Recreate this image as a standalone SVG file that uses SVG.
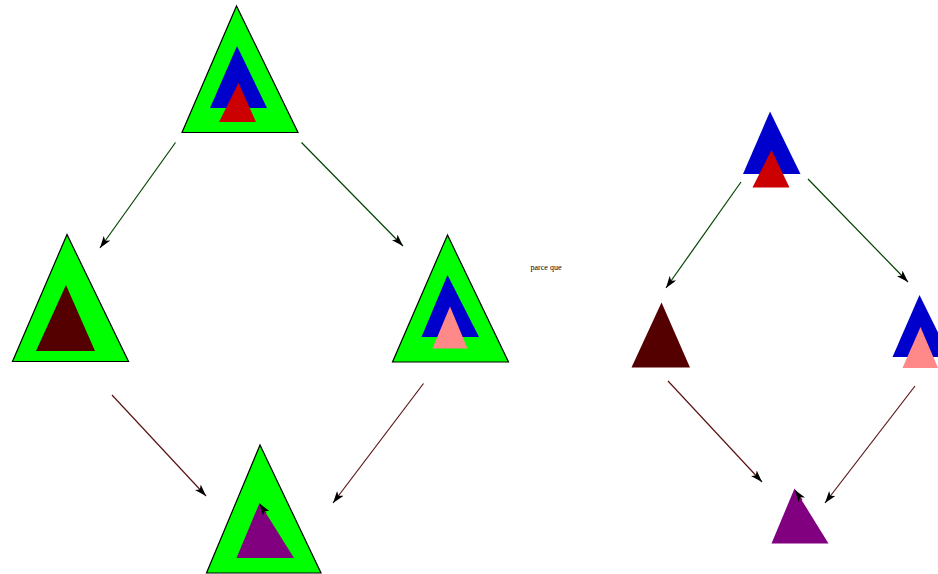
<svg xmlns="http://www.w3.org/2000/svg" width="938" height="574" viewBox="0 0 938 574">
<style>
.g{fill:#00ff00;stroke:#000;stroke-width:1.2}
.b{fill:#0000cc}
.r{fill:#cc0000}
.d{fill:#550000}
.p{fill:#ff8888}
.v{fill:#800080}
.eg{stroke:#004400;stroke-width:1.2;fill:none;marker-end:url(#ah)}
.er{stroke:#5a1414;stroke-width:1.2;fill:none;marker-end:url(#ah)}
.t{font-family:"Liberation Serif",serif;font-size:8px;fill:#000}
</style>
<defs>
<marker id="ah" markerUnits="userSpaceOnUse" markerWidth="14" markerHeight="8" refX="12" refY="4" orient="auto">
<path d="M0,0 L12,4 L0,8 L3,4 z" fill="#000"/>
</marker>
</defs>
<rect width="938" height="574" fill="#fff"/>
<g id="n1">
<polygon class="g" points="236.5,6 182,132.5 298,132.5"/>
<polygon class="b" points="237,46 210,108 267,108"/>
<polygon class="r" points="238.5,83 219,122 256,122"/>
</g>
<g id="n2">
<polygon class="g" points="67,234.5 12.5,361.5 128.5,361.5"/>
<polygon class="d" points="66,285 36,351 95,351"/>
</g>
<g id="n3">
<polygon class="g" points="447.5,235 392.5,362 508.5,362"/>
<polygon class="b" points="447.5,275 421.5,337 479,337"/>
<polygon class="p" points="450,306.5 432.5,348.5 467.5,348.5"/>
</g>
<g id="n4">
<polygon class="g" points="260,445 206.5,573 321,573"/>
<polygon class="v" points="259.5,503 236.5,558 294,558"/>
</g>
<g id="n5">
<polygon class="b" points="770,111.5 743,174 800.5,174"/>
<polygon class="r" points="771.5,150 752.5,187.5 789.5,187.5"/>
</g>
<g id="n6">
<polygon class="d" points="661.5,302.5 631.5,367.5 690,367.5"/>
</g>
<g id="n7">
<polygon class="b" points="919.5,295 892.5,357 950,357"/>
<polygon class="p" points="920.5,327 902.5,368 938,368"/>
</g>
<g id="n8">
<polygon class="v" points="794.5,488.5 771.5,543.5 828.5,543.5"/>
</g>
<g id="connectors">
<line class="eg" x1="175.5" y1="142.5" x2="100" y2="248"/>
<line class="eg" x1="301.5" y1="142.5" x2="403" y2="246"/>
<line class="er" x1="112" y1="395" x2="206" y2="496"/>
<line class="er" x1="423.5" y1="383.5" x2="333" y2="503"/>
<line class="er" x1="266" y1="513" x2="259.5" y2="503.5" stroke="none"/>
<line class="eg" x1="741" y1="182" x2="666" y2="288"/>
<line class="eg" x1="808" y1="179" x2="908" y2="282"/>
<line class="er" x1="668" y1="381" x2="762" y2="482"/>
<line class="er" x1="915" y1="386" x2="825" y2="503"/>
<line class="er" x1="802" y1="500" x2="795" y2="490" stroke="none"/>
</g>
<text class="t" x="546" y="270" text-anchor="middle">parce que</text>
</svg>
